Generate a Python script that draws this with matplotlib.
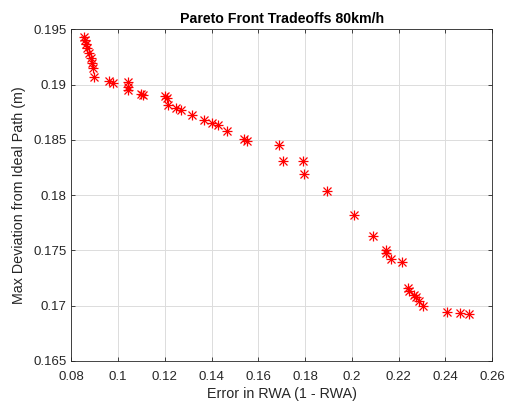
import matplotlib
matplotlib.use("Agg")
import matplotlib.pyplot as plt

plt.rcParams['font.family'] = ['Liberation Sans', 'DejaVu Sans']

# Pareto front samples: error in RWA vs. max deviation from ideal path
rwa_error = [0.0856, 0.0859, 0.0863, 0.0868, 0.0876, 0.0883, 0.0887, 0.0892, 0.0898,
             0.0963, 0.0977, 0.1041, 0.1044, 0.1044, 0.1098, 0.1108,
             0.1201, 0.1208, 0.1215, 0.1249, 0.1268, 0.1315, 0.1368, 0.1401,
             0.1426, 0.1465, 0.1539, 0.1551, 0.1690, 0.1707, 0.1793, 0.1797,
             0.1895, 0.2010, 0.2090, 0.2145, 0.2147, 0.2167, 0.2215, 0.2242,
             0.2246, 0.2266, 0.2275, 0.2289, 0.2306, 0.2408, 0.2463, 0.2503]
max_dev = [0.19433, 0.19403, 0.19367, 0.19328, 0.19283, 0.19238, 0.19193, 0.19153, 0.19072,
           0.19033, 0.19017, 0.19021, 0.18981, 0.18951, 0.18915, 0.18906,
           0.18897, 0.18877, 0.18816, 0.18786, 0.18771, 0.18726, 0.18680, 0.18651,
           0.18635, 0.18584, 0.18506, 0.18493, 0.18455, 0.18313, 0.18310, 0.18190,
           0.18039, 0.17822, 0.17635, 0.17506, 0.17481, 0.17422, 0.17397, 0.17160,
           0.17129, 0.17093, 0.17075, 0.17039, 0.17000, 0.16939, 0.16930, 0.16927]

x_ticks = [0.08, 0.1, 0.12, 0.14, 0.16, 0.18, 0.2, 0.22, 0.24, 0.26]
x_tick_labels = ['0.08', '0.1', '0.12', '0.14', '0.16', '0.18', '0.2', '0.22', '0.24', '0.26']
y_ticks = [0.165, 0.17, 0.175, 0.18, 0.185, 0.19, 0.195]
y_tick_labels = ['0.165', '0.17', '0.175', '0.18', '0.185', '0.19', '0.195']

fig = plt.figure(figsize=(5.11, 4.09), dpi=100)
ax = fig.add_axes([0.1395, 0.1174, 0.8235, 0.8106])

# asterisk markers built from a plus and a cross
ax.plot(rwa_error, max_dev, linestyle='none', marker='+', markersize=7,
        markeredgewidth=0.9, color='#ff0000')
ax.plot(rwa_error, max_dev, linestyle='none', marker='x', markersize=5.2,
        markeredgewidth=0.9, color='#ff0000')

ax.set_xlim(0.08, 0.26)
ax.set_ylim(0.165, 0.195)
ax.set_xticks(x_ticks)
ax.set_xticklabels(x_tick_labels)
ax.set_yticks(y_ticks)
ax.set_yticklabels(y_tick_labels)

ax.grid(True, color='#dcdcdc', linewidth=0.7)
ax.set_axisbelow(True)
ax.tick_params(direction='in', top=True, right=True, length=3,
               labelsize=9.5, color='#262626', labelcolor='#262626', width=0.6)
ax.tick_params(axis='x', pad=7)
for s in ax.spines.values():
    s.set_color('#262626')
    s.set_linewidth(0.6)

ax.set_xlabel('Error in RWA (1 - RWA)', fontsize=10.3, color='#262626', labelpad=3)
ax.set_ylabel('Max Deviation from Ideal Path (m)', fontsize=10.3, color='#262626', labelpad=5)
ax.set_title('Pareto Front Tradeoffs 80km/h', fontsize=10.2, fontweight='bold', color='black', pad=5)

fig.savefig('out.png', dpi=100)
